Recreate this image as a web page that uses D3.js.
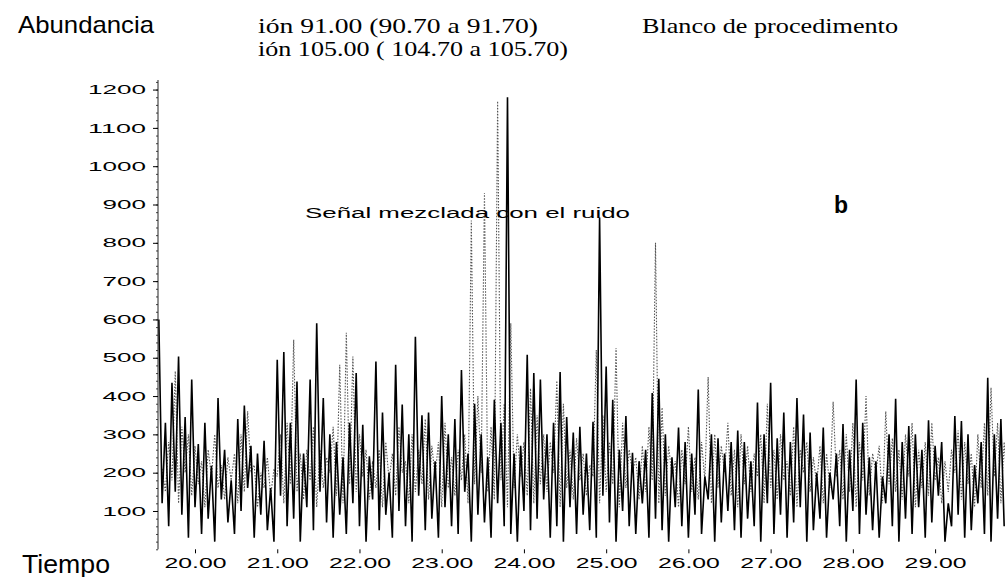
<!DOCTYPE html>
<html>
<head>
<meta charset="utf-8">
<script src="https://cdn.jsdelivr.net/npm/d3@7"></script>
<style>
  body { margin: 0; background: #fff; }
  text { font-family: 'Liberation Sans', Arial, sans-serif; fill: #000; }
  .serif { font-family: 'Liberation Serif', 'Times New Roman', serif; }
</style>
</head>
<body>
<script>
// scan timing (min)
const scanStart = 19.56
const scanStep = 0.08

// ion 91 trace (solid) - peak and valley abundances per scan pair
const blackPeaks = [
  600, 330, 435, 503, 345, 443, 275, 330, 218, 395,
  260, 180, 340, 375, 270, 250, 283, 160, 495, 515,
  330, 438, 250, 443, 590, 395, 300, 280, 240, 330,
  460, 325, 243, 490, 357, 200, 482, 378, 300, 555,
  350, 357, 230, 400, 300, 340, 468, 250, 380, 300,
  240, 390, 330, 1180, 250, 270, 508, 460, 443, 300,
  330, 463, 345, 305, 320, 250, 333, 866, 477, 390,
  260, 348, 252, 230, 260, 408, 445, 300, 240, 318,
  280, 250, 417, 190, 300, 290, 250, 280, 310, 280,
  230, 383, 300, 435, 290, 357, 280, 395, 352, 305,
  200, 318, 200, 250, 327, 260, 443, 330, 240, 230,
  190, 300, 393, 280, 322, 300, 260, 337, 270, 280,
  120, 348, 335, 300, 220, 280, 448, 300, 340
]
const blackLows = [
  120, 60, 150, 90, 30, 110, 40, 80, 20, 130,
  70, 40, 100, 160, 30, 90, 50, 20, 140, 60,
  80, 20, 110, 50, 150, 70, 30, 90, 40, 120,
  60, 20, 130, 50, 90, 30, 100, 60, 20, 140,
  50, 80, 30, 110, 60, 40, 150, 20, 90, 70,
  30, 120, 60, 40, 20, 100, 50, 80, 130, 30,
  60, 20, 110, 40, 90, 50, 30, 140, 70, 20,
  100, 60, 40, 120, 30, 80, 50, 20, 110, 60,
  30, 90, 40, 130, 20, 70, 100, 50, 30, 80,
  60, 20, 120, 40, 90, 30, 70, 110, 20, 50,
  80, 30, 130, 60, 20, 100, 40, 90, 50, 30,
  120, 60, 20, 80, 40, 110, 30, 70, 140, 20,
  60, 90, 30, 50, 120, 40, 20, 80, 60
]

// ion 105 trace (dotted)
const greyPeaks = [
  210, 280, 465, 320, 300, 270, 230, 260, 300, 220,
  240, 250, 300, 360, 220, 200, 240, 210, 300, 330,
  547, 250, 260, 320, 260, 240, 320, 482, 565, 503,
  300, 260, 230, 260, 280, 250, 320, 230, 300, 260,
  340, 270, 280, 330, 240, 260, 300, 858, 400, 930,
  320, 1170, 380, 590, 300, 280, 420, 350, 300, 280,
  440, 380, 260, 290, 250, 220, 520, 350, 280, 525,
  330, 260, 240, 270, 320, 800, 370, 270, 230, 260,
  320, 240, 280, 450, 300, 270, 330, 260, 300, 270,
  250, 300, 380, 260, 300, 230, 320, 260, 280, 240,
  270, 250, 385, 260, 300, 330, 280, 400, 250, 270,
  360, 290, 260, 300, 330, 260, 280, 330, 240, 230,
  260, 310, 280, 250, 300, 330, 422, 330, 280
]
const greyLows = [
  150, 180, 120, 200, 140, 170, 110, 190, 160, 130,
  180, 120, 150, 200, 110, 160, 140, 190, 120, 170,
  150, 130, 180, 110, 160, 200, 140, 120, 170, 150,
  190, 130, 160, 110, 180, 140, 200, 120, 150, 170,
  130, 190, 110, 160, 140, 180, 120, 170, 200, 150,
  130, 180, 110, 160, 190, 140, 120, 170, 150, 200,
  110, 160, 130, 180, 140, 190, 120, 150, 170, 110,
  160, 200, 130, 150, 180, 120, 140, 190, 110, 170,
  150, 130, 180, 120, 160, 200, 140, 110, 170, 150,
  190, 120, 160, 130, 180, 140, 110, 200, 150, 170,
  120, 160, 190, 130, 150, 110, 180, 140, 200, 120,
  170, 150, 130, 190, 110, 160, 140, 180, 120, 150,
  200, 130, 170, 110, 160, 140, 190, 120, 150
]

const yTicks = [100, 200, 300, 400, 500, 600, 700, 800, 900, 1000, 1100, 1200]
const xTicks = [20, 21, 22, 23, 24, 25, 26, 27, 28, 29]

function buildPoints(peaks, lows, offset) {
    var pts = []
    peaks.forEach(function(p, i) {
        var t = scanStart + offset + i * scanStep
        pts.push([t, p])
        pts.push([t + scanStep / 2, lows[i]])
    })
    return pts
}

function drawChart() {
    var svg = d3.select('body')
        .append('svg')
        .attr('width', 1005)
        .attr('height', 577)

    var x = d3.scaleLinear().domain([19.55, 29.85]).range([158, 1005])
    var y = d3.scaleLinear().domain([0, 1225]).range([549.3, 80])

    svg.append('clipPath').attr('id', 'plot')
        .append('rect')
        .attr('x', 158).attr('y', 70)
        .attr('width', 847).attr('height', 482)

    var line = d3.line()
        .x(function(d) { return x(d[0]) })
        .y(function(d) { return y(d[1]) })

    var g = svg.append('g').attr('clip-path', 'url(#plot)')

    g.append('path')
        .datum(buildPoints(greyPeaks, greyLows, scanStep / 2))
        .attr('d', line)
        .attr('fill', 'none')
        .attr('stroke', '#555')
        .attr('stroke-width', 1.1)
        .attr('stroke-dasharray', '1.5,1.5')

    g.append('path')
        .datum(buildPoints(blackPeaks, blackLows, 0))
        .attr('d', line)
        .attr('fill', 'none')
        .attr('stroke', '#000')
        .attr('stroke-width', 1.6)

    // y axis, minor ticks first
    svg.append('g')
        .attr('transform', 'translate(158,0)')
        .call(d3.axisLeft(y).tickValues(d3.range(0, 1221, 20)).tickSize(2).tickFormat(''))
        .call(function(a) { a.select('.domain').remove() })
        .selectAll('line').attr('stroke', '#444')

    var yAxis = svg.append('g')
        .attr('transform', 'translate(158,0)')
        .call(d3.axisLeft(y).tickValues(yTicks).tickSize(5).tickPadding(7).tickFormat(d3.format('d')))
    yAxis.select('.domain').attr('stroke', '#222').attr('d', 'M0,' + y(1225) + 'V' + y(0))
    yAxis.selectAll('text')
        .attr('font-size', 13)
        .attr('font-family', 'Liberation Sans, Arial, sans-serif')
        .attr('textLength', function(d) { return String(d).length * 14.5 })
        .attr('lengthAdjust', 'spacingAndGlyphs')

    var xAxis = svg.append('g')
        .attr('transform', 'translate(0,' + y(0) + ')')
        .call(d3.axisBottom(x).tickValues(xTicks).tickSize(4).tickPadding(5).tickFormat(d3.format('.2f')))
    xAxis.select('.domain').remove()
    xAxis.selectAll('text')
        .attr('font-size', 14)
        .attr('font-family', 'Liberation Sans, Arial, sans-serif')
        .attr('textLength', 62)
        .attr('lengthAdjust', 'spacingAndGlyphs')

    // labels
    svg.append('text').text('Abundancia')
        .attr('x', 18).attr('y', 33)
        .attr('font-size', 24)
        .attr('textLength', 136).attr('lengthAdjust', 'spacingAndGlyphs')

    svg.append('text').text('Tiempo')
        .attr('x', 22).attr('y', 573)
        .attr('font-size', 25)
        .attr('textLength', 88).attr('lengthAdjust', 'spacingAndGlyphs')

    svg.append('text').classed('serif', true).text('ión 91.00 (90.70 a 91.70)')
        .attr('x', 258).attr('y', 33)
        .attr('font-size', 21)
        .attr('textLength', 280).attr('lengthAdjust', 'spacingAndGlyphs')

    svg.append('text').classed('serif', true).text('ión 105.00 ( 104.70 a 105.70)')
        .attr('x', 258).attr('y', 56)
        .attr('font-size', 21)
        .attr('textLength', 310).attr('lengthAdjust', 'spacingAndGlyphs')

    svg.append('text').classed('serif', true).text('Blanco de procedimento')
        .attr('x', 642).attr('y', 33)
        .attr('font-size', 21)
        .attr('textLength', 256).attr('lengthAdjust', 'spacingAndGlyphs')

    svg.append('text').text('Señal mezclada con el ruido')
        .attr('x', 305).attr('y', 218)
        .attr('font-size', 14)
        .attr('textLength', 325).attr('lengthAdjust', 'spacingAndGlyphs')

    svg.append('text').text('b')
        .attr('x', 834).attr('y', 213)
        .attr('font-size', 23)
        .attr('font-weight', 'bold')
}

drawChart()
</script>
</body>
</html>
